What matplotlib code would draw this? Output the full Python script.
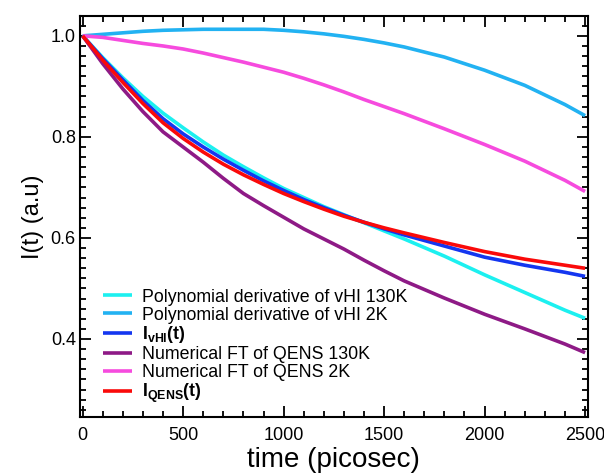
import matplotlib
matplotlib.use('Agg')
import matplotlib.pyplot as plt
from matplotlib.ticker import MultipleLocator, FormatStrFormatter

plt.rcParams['font.family'] = ['Liberation Sans', 'DejaVu Sans']
plt.rcParams['mathtext.fontset'] = 'custom'
plt.rcParams['mathtext.rm'] = 'Liberation Sans'
plt.rcParams['mathtext.bf'] = 'Liberation Sans:bold'

# time grid (picosec)
time = [0, 100, 200, 300, 400, 500, 600, 700, 800, 900, 1000, 1100, 1200,
        1300, 1400, 1500, 1600, 1800, 2000, 2200, 2400, 2500]

poly_vhi_130k = [1.0, 0.957, 0.917, 0.880, 0.847, 0.818, 0.790, 0.764, 0.741, 0.719,
                 0.698, 0.680, 0.662, 0.646, 0.630, 0.614, 0.598, 0.564, 0.527,
                 0.492, 0.457, 0.441]
poly_vhi_2k = [1.0, 1.003, 1.006, 1.009, 1.011, 1.012, 1.013, 1.013, 1.013, 1.013,
               1.011, 1.008, 1.004, 0.999, 0.993, 0.986, 0.978, 0.958, 0.932,
               0.902, 0.864, 0.842]
i_vhi = [1.0, 0.955, 0.913, 0.872, 0.836, 0.806, 0.780, 0.756, 0.734, 0.713,
         0.694, 0.676, 0.660, 0.645, 0.631, 0.618, 0.606, 0.584, 0.562,
         0.546, 0.532, 0.524]
ft_qens_130k = [1.0, 0.945, 0.895, 0.850, 0.810, 0.780, 0.750, 0.718, 0.688, 0.664,
                0.641, 0.618, 0.598, 0.578, 0.556, 0.535, 0.515, 0.481, 0.449,
                0.420, 0.390, 0.373]
ft_qens_2k = [1.0, 0.997, 0.991, 0.985, 0.980, 0.974, 0.966, 0.957, 0.948, 0.938,
              0.928, 0.916, 0.903, 0.889, 0.874, 0.860, 0.846, 0.816, 0.785,
              0.752, 0.714, 0.692]
i_qens = [1.0, 0.952, 0.908, 0.866, 0.828, 0.797, 0.770, 0.746, 0.725, 0.706,
          0.688, 0.672, 0.657, 0.643, 0.631, 0.620, 0.610, 0.591, 0.573,
          0.558, 0.546, 0.540]

series = [
    (poly_vhi_130k, '#1CF0F0', 'Polynomial derivative of vHI 130K'),
    (poly_vhi_2k, '#22B2F2', 'Polynomial derivative of vHI 2K'),
    (i_vhi, '#1436F0', r'$\mathbf{I_{vHI}(t)}$'),
    (ft_qens_130k, '#8E1A86', 'Numerical FT of QENS 130K'),
    (ft_qens_2k, '#F64BDE', 'Numerical FT of QENS 2K'),
    (i_qens, '#FA0A0A', r'$\mathbf{I_{QENS}(t)}$'),
]

fig, ax = plt.subplots(figsize=(6.04, 4.74), dpi=100)
fig.subplots_adjust(left=0.1325, right=0.973, bottom=0.1196, top=0.967)

for values, color, label in series:
    ax.plot(time, values, color=color, lw=2.6, label=label, solid_capstyle='butt')

ax.set_xlim(-13, 2513)
ax.set_ylim(0.245, 1.04)
ax.xaxis.set_major_locator(MultipleLocator(500))
ax.xaxis.set_minor_locator(MultipleLocator(100))
ax.yaxis.set_major_locator(MultipleLocator(0.2))
ax.yaxis.set_minor_locator(MultipleLocator(0.02))
ax.yaxis.set_major_formatter(FormatStrFormatter('%.1f'))
ax.tick_params(which='both', direction='in', top=True, right=True, width=1.3)
ax.tick_params(which='major', length=8, labelsize=13)
ax.tick_params(axis='x', which='major', pad=7)
ax.tick_params(axis='y', which='major', pad=3)
ax.tick_params(which='minor', length=4)
for s in ax.spines.values():
    s.set_linewidth(1.5)

ax.set_xlabel('time (picosec)', fontsize=20, labelpad=2)
ax.set_ylabel('I(t) (a.u)', fontsize=17, labelpad=5)

ax.legend(loc='lower left', bbox_to_anchor=(0.045, 0.03), frameon=False,
          fontsize=12.8, borderpad=0, borderaxespad=0, labelspacing=0.05,
          handlelength=1.65, handletextpad=0.55)

fig.savefig('out.png', dpi=100)
